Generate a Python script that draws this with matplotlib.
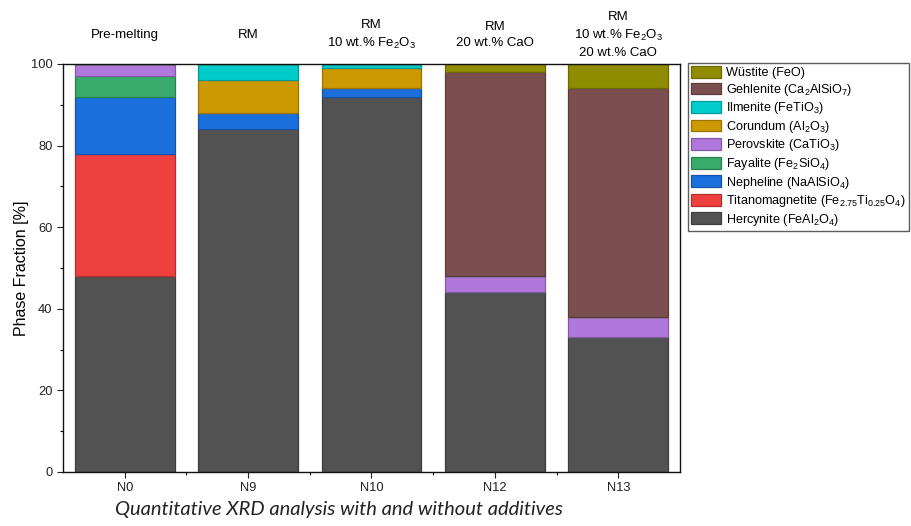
import numpy as np
import matplotlib.pyplot as plt
from matplotlib import colors as mcolors

plt.rcParams['font.family'] = ['Liberation Sans', 'DejaVu Sans']
plt.rcParams['mathtext.fontset'] = 'custom'
plt.rcParams['mathtext.rm'] = 'Liberation Sans'
plt.rcParams['mathtext.it'] = 'Liberation Sans:italic'

samples = ['N0', 'N9', 'N10', 'N12', 'N13']
conditions = ['Pre-melting',
              'RM',
              'RM\n10 wt.% Fe$_2$O$_3$',
              'RM\n20 wt.% CaO',
              'RM\n10 wt.% Fe$_2$O$_3$\n20 wt.% CaO']

# stacking order bottom -> top
phases = ['Hercynite (FeAl$_2$O$_4$)',
          'Titanomagnetite (Fe$_{2.75}$Ti$_{0.25}$O$_4$)',
          'Nepheline (NaAlSiO$_4$)',
          'Fayalite (Fe$_2$SiO$_4$)',
          'Perovskite (CaTiO$_3$)',
          'Corundum (Al$_2$O$_3$)',
          'Ilmenite (FeTiO$_3$)',
          'Gehlenite (Ca$_2$AlSiO$_7$)',
          'Wüstite (FeO)']

# phase fractions [%] per sample, same order as samples
hercynite       = [48, 84, 92, 44, 33]
titanomagnetite = [30,  0,  0,  0,  0]
nepheline       = [14,  4,  2,  0,  0]
fayalite        = [ 5,  0,  0,  0,  0]
perovskite      = [ 3,  0,  0,  4,  5]
corundum        = [ 0,  8,  5,  0,  0]
ilmenite        = [ 0,  4,  1,  0,  0]
gehlenite       = [ 0,  0,  0, 50, 56]
wustite         = [ 0,  0,  0,  2,  6]

fractions = [hercynite, titanomagnetite, nepheline, fayalite, perovskite,
             corundum, ilmenite, gehlenite, wustite]

phase_colors = ['#525252', '#ef4040', '#1a6fdd', '#38aa6a', '#b078dc',
                '#cc9900', '#00cccc', '#7b4f4f', '#8f8c00']


def darker(c, f=0.75):
    r, g, b = mcolors.to_rgb(c)
    return (r * f, g * f, b * f)


fig = plt.figure(figsize=(9.12, 5.26), dpi=100)
ax = fig.add_axes([63 / 912, 1 - 472 / 526, 617 / 912, 408 / 526])

x = np.arange(len(samples))
bottom = np.zeros(len(samples))
handles = []
for name, vals, col in zip(phases, fractions, phase_colors):
    vals = np.array(vals, dtype=float)
    b = ax.bar(x, vals, width=0.81, bottom=bottom, color=col,
               edgecolor=darker(col), linewidth=0.9, label=name)
    handles.append(b)
    bottom += vals

ax.set_xlim(-0.5, 4.5)
ax.set_ylim(0, 100)
ax.set_xticks(x)
ax.set_xticklabels(samples)
ax.set_xticks(x[:-1] + 0.5, minor=True)
ax.set_yticks(np.arange(0, 101, 20))
ax.set_yticks(np.arange(10, 100, 20), minor=True)
ax.tick_params(axis='both', which='major', direction='out', length=4,
               width=0.8, labelsize=9.3, colors='#222222')
ax.tick_params(axis='both', which='minor', direction='out', length=2.5,
               width=0.8)
ax.set_ylabel('Phase Fraction [%]', fontsize=11.5, labelpad=1)

for s in ax.spines.values():
    s.set_linewidth(1.0)
    s.set_color('#111111')

# sample conditions written above each bar
for xi, cond in zip(x, conditions):
    ax.text(xi, 107.2, cond, ha='center', va='center', fontsize=9.5,
            linespacing=1.45, clip_on=False)

# legend lists the top phase first
fig.legend(handles[::-1], phases[::-1], loc='upper left',
           bbox_to_anchor=(688 / 912, 1 - 63 / 526), borderaxespad=0,
           fontsize=9.1, frameon=True, fancybox=False, edgecolor='#333333',
           handlelength=2.4, handleheight=1.05, handletextpad=0.35,
           labelspacing=0.2, borderpad=0.25)

fig.text(339 / 912, 1 - 510 / 526,
         'Quantitative XRD analysis with and without additives',
         ha='center', va='center', fontsize=14.5, style='italic',
         family='Lato', color='#222222')

fig.savefig('out.png', dpi=100)
